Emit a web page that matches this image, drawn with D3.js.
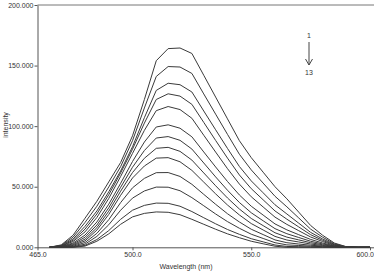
<!DOCTYPE html>
<html>
<head>
<meta charset="utf-8">
<script src="https://cdn.jsdelivr.net/npm/d3@7"></script>
<style>
  body { margin: 0; background: #fff; }
  svg { display: block; font-family: "Liberation Sans", Arial, sans-serif; }
  .curve { fill: none; stroke: #3a3a3a; stroke-width: 1; }
  .axis text { font-size: 7px; fill: #333; }
  .axis path, .axis line { stroke: #555; }
</style>
</head>
<body>
<div id="chart"></div>
<script>
// wavelength grid (nm)
var wavelengths = [465, 470, 475, 480, 485, 490, 495, 500, 505, 510, 515, 520, 525, 530,
                   535, 540, 545, 550, 555, 560, 565, 570, 575, 580, 585, 590, 595, 600];

// emission spectra 1 .. 13 (intensity)
var s1  = [0, 2, 10, 24, 38, 54, 70, 92, 122, 154, 164, 164.5, 160, 142, 124, 106, 88, 74, 62, 50, 40, 29, 18, 10, 3.5, 0.5, 0, 0];
var s2  = [0, 1.6, 8.4, 20.5, 33.9, 49.8, 66.6, 88.0, 115.0, 141.0, 149.2, 148.8, 143.5, 126.6, 109.9, 93.2, 76.8, 63.9, 53.0, 42.1, 33.4, 24.2, 15.0, 8.4, 2.9, 0.4, 0, 0];
var s3  = [0, 1.4, 6.9, 17.3, 30.0, 45.8, 63.0, 83.0, 107.0, 129.5, 135.4, 134.2, 128.2, 112.5, 97.0, 81.6, 66.7, 54.8, 45.0, 35.1, 27.5, 19.9, 12.3, 6.9, 2.4, 0.3, 0, 0];
var s4  = [0, 1.1, 5.8, 15.0, 27.5, 43.4, 61.4, 81.0, 102.5, 122.0, 126.7, 124.8, 118.0, 103.1, 88.2, 73.6, 59.7, 48.4, 39.2, 30.0, 23.2, 16.8, 10.4, 5.8, 2.0, 0.3, 0, 0];
var s5  = [0, 0.9, 4.8, 12.7, 24.6, 40.3, 58.5, 77.5, 96.5, 112.8, 116.2, 113.7, 106.5, 92.5, 78.6, 64.9, 52.2, 41.7, 33.3, 24.9, 18.9, 13.7, 8.5, 4.8, 1.6, 0.2, 0, 0];
var s6  = [0, 0.7, 3.6, 10.1, 20.9, 35.6, 52.8, 70.8, 86.9, 99.3, 101.1, 98.3, 91.2, 78.7, 66.3, 54.3, 43.2, 33.9, 26.6, 19.3, 14.4, 10.4, 6.5, 3.6, 1.2, 0.2, 0, 0];
var s7  = [0, 0.6, 2.8, 8.3, 18.4, 32.6, 49.5, 66.1, 79.9, 90.2, 91.4, 88.3, 81.1, 69.6, 58.1, 47.1, 37.0, 28.5, 21.9, 15.4, 11.2, 8.1, 5.0, 2.8, 1.0, 0.1, 0, 0];
var s8  = [0, 0.4, 2.1, 6.7, 16.2, 29.8, 46.3, 61.7, 73.5, 81.7, 82.5, 79.2, 72.0, 61.4, 50.8, 40.7, 31.6, 23.8, 17.9, 12.0, 8.4, 6.1, 3.8, 2.1, 0.7, 0.1, 0, 0];
var s9  = [0, 0.3, 1.5, 5.3, 14.2, 27.1, 42.9, 57.2, 67.1, 73.6, 74.0, 70.6, 63.5, 53.8, 44.1, 34.9, 26.7, 19.6, 14.3, 9.0, 6.0, 4.4, 2.7, 1.5, 0.5, 0.1, 0, 0];
var s10 = [0, 0.2, 0.9, 3.9, 11.5, 22.8, 36.9, 49.1, 56.9, 61.6, 61.7, 58.5, 52.0, 43.7, 35.5, 27.7, 20.9, 14.9, 10.5, 6.1, 3.8, 2.7, 1.7, 1.0, 0.3, 0, 0, 0];
var s11 = [0, 0.1, 0.5, 2.6, 9.0, 18.6, 30.6, 40.6, 46.5, 49.7, 49.6, 46.7, 41.0, 34.3, 27.5, 21.2, 15.7, 10.8, 7.3, 3.8, 2.0, 1.5, 0.9, 0.5, 0.2, 0, 0, 0];
var s12 = [0, 0, 0.2, 1.6, 6.4, 13.8, 23.1, 30.6, 34.6, 36.5, 36.3, 33.9, 29.5, 24.4, 19.4, 14.7, 10.7, 7.1, 4.5, 1.9, 0.7, 0.5, 0.3, 0.2, 0.1, 0, 0, 0];
var s13 = [0, 0, 0, 1.0, 5.0, 11.1, 19.0, 25.1, 28.0, 29.2, 28.9, 26.9, 23.1, 19.0, 14.9, 11.1, 7.9, 5.0, 2.9, 0.9, 0, 0, 0, 0, 0, 0, 0, 0];

var spectra = [s1, s2, s3, s4, s5, s6, s7, s8, s9, s10, s11, s12, s13];

var xTickValues = [460, 500, 550, 600];
var xTickLabels = ["465.0", "500.0", "550.0", "600.0"];
var yTickValues = [0, 50, 100, 150, 200];

var width = 374, height = 272;
var margin = {top: 5, right: 4, bottom: 25, left: 37.5};

var svg = d3.select("#chart").append("svg")
    .attr("width", width)
    .attr("height", height);

var x = d3.scaleLinear()
    .domain([460, 600])
    .range([margin.left, width - margin.right]);

var y = d3.scaleLinear()
    .domain([0, 200])
    .range([height - margin.bottom + 0.3, margin.top]);

// top frame line
svg.append("line")
    .attr("x1", margin.left).attr("x2", width)
    .attr("y1", y(200)).attr("y2", y(200))
    .attr("stroke", "#777");

var xAxis = svg.append("g")
    .attr("class", "axis")
    .attr("transform", "translate(0," + y(0) + ")")
    .call(d3.axisBottom(x)
      .tickValues(xTickValues)
      .tickFormat(function(d, i) { return xTickLabels[i]; })
      .tickSize(3)
      .tickSizeOuter(0)
      .tickPadding(2));
xAxis.select(".domain").attr("d", "M" + margin.left + ",0.5H" + width);
// keep the last label inside the window
xAxis.selectAll(".tick text")
    .filter(function(d) { return d === 600; })
    .attr("text-anchor", "end")
    .attr("dx", 3.5);

svg.append("g")
    .attr("class", "axis")
    .attr("transform", "translate(" + margin.left + ",0)")
    .call(d3.axisLeft(y)
      .tickValues(yTickValues)
      .tickFormat(d3.format(".3f"))
      .tickSize(3)
      .tickSizeOuter(0)
      .tickPadding(1));

var line = d3.line()
    .x(function(d, i) { return x(wavelengths[i]); })
    .y(function(d) { return y(d); });

svg.append("g")
    .selectAll("path")
    .data(spectra)
    .enter().append("path")
    .attr("class", "curve")
    .attr("d", line);

// axis titles
svg.append("text")
    .attr("x", 186).attr("y", 269)
    .attr("text-anchor", "middle")
    .attr("font-size", 7)
    .attr("fill", "#333")
    .text("Wavelength (nm)");

svg.append("text")
    .attr("transform", "translate(8,125) rotate(-90)")
    .attr("text-anchor", "middle")
    .attr("font-size", 7)
    .attr("fill", "#333")
    .text("intensity");

// order annotation
var ax = 309;
svg.append("text")
    .attr("x", ax).attr("y", 38)
    .attr("text-anchor", "middle")
    .attr("font-size", 7)
    .attr("fill", "#333")
    .text("1");
svg.append("line")
    .attr("x1", ax).attr("x2", ax)
    .attr("y1", 42).attr("y2", 65)
    .attr("stroke", "#444");
svg.append("path")
    .attr("d", "M" + (ax - 3.5) + ",59 L" + ax + ",65 L" + (ax + 3.5) + ",59")
    .attr("fill", "none")
    .attr("stroke", "#444");
svg.append("text")
    .attr("x", ax).attr("y", 74.5)
    .attr("text-anchor", "middle")
    .attr("font-size", 7)
    .attr("fill", "#333")
    .text("13");
</script>
</body>
</html>
